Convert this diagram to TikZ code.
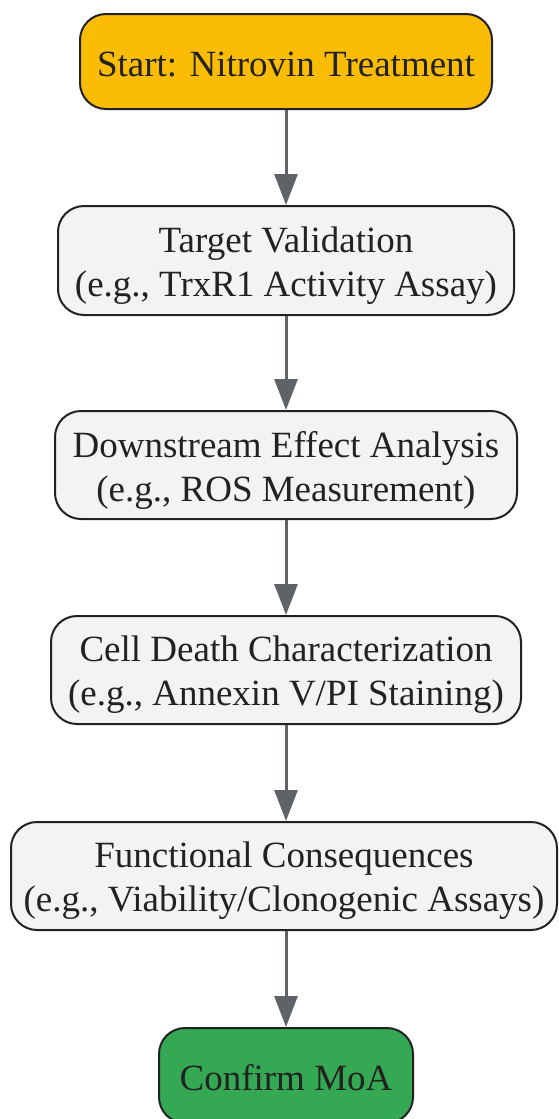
\documentclass[tikz,border=0pt]{standalone}
\usepackage{fontspec}
\setmainfont{Liberation Serif}
\usetikzlibrary{arrows.meta}
\definecolor{startc}{HTML}{FBBC05}
\definecolor{endc}{HTML}{34A853}
\definecolor{boxc}{HTML}{F1F3F4}
\definecolor{edgec}{HTML}{222222}
\definecolor{arrc}{HTML}{5F6368}
\begin{document}
\begin{tikzpicture}[x=1pt,y=1pt,
  box/.style={draw=edgec, line width=2pt, rounded corners=26pt, inner sep=0pt},
  txt/.style={align=center, inner sep=0pt, text=edgec, font=\fontsize{37}{44}\selectfont},
  flow/.style={draw=arrc, line width=3pt, -{Triangle[length=31pt,width=23pt]}}]
\useasboundingbox (0,0) rectangle (559,-1119);
\node[box, fill=startc, minimum width=412pt, minimum height=95pt] (n1) at (286,-61.5) {};
\node[txt] (t1) at ([yshift=-3pt]n1.center) {Start: Nitrovin Treatment};
\node[box, fill=boxc, minimum width=456pt, minimum height=109pt] (n2) at (286,-260.5) {};
\node[txt] (t2) at ([yshift=-5pt]n2.center) {Target Validation\\(e.g., TrxR1 Activity Assay)};
\node[box, fill=boxc, minimum width=462pt, minimum height=108pt] (n3) at (286,-465) {};
\node[txt] (t3) at ([yshift=-5pt]n3.center) {Downstream Effect Analysis\\(e.g., ROS Measurement)};
\node[box, fill=boxc, minimum width=470pt, minimum height=108pt] (n4) at (286,-670) {};
\node[txt] (t4) at ([yshift=-5pt]n4.center) {Cell Death Characterization\\(e.g., Annexin V/PI Staining)};
\node[box, fill=boxc, minimum width=546pt, minimum height=108pt] (n5) at (284,-876) {};
\node[txt] (t5) at ([yshift=-5pt]n5.center) {Functional Consequences\\(e.g., Viability/Clonogenic Assays)};
\node[box, fill=endc, minimum width=254pt, minimum height=95pt] (n6) at (286,-1075.5) {};
\node[txt] (t6) at ([yshift=-2pt]n6.center) {Confirm MoA};
\draw[flow] (n1.south) -- (n2.north);
\draw[flow] (n2.south) -- (n3.north);
\draw[flow] (n3.south) -- (n4.north);
\draw[flow] (n4.south) -- (n5.north -| n4.south);
\draw[flow] (n5.south -| n6.north) -- (n6.north);
\end{tikzpicture}
\end{document}
